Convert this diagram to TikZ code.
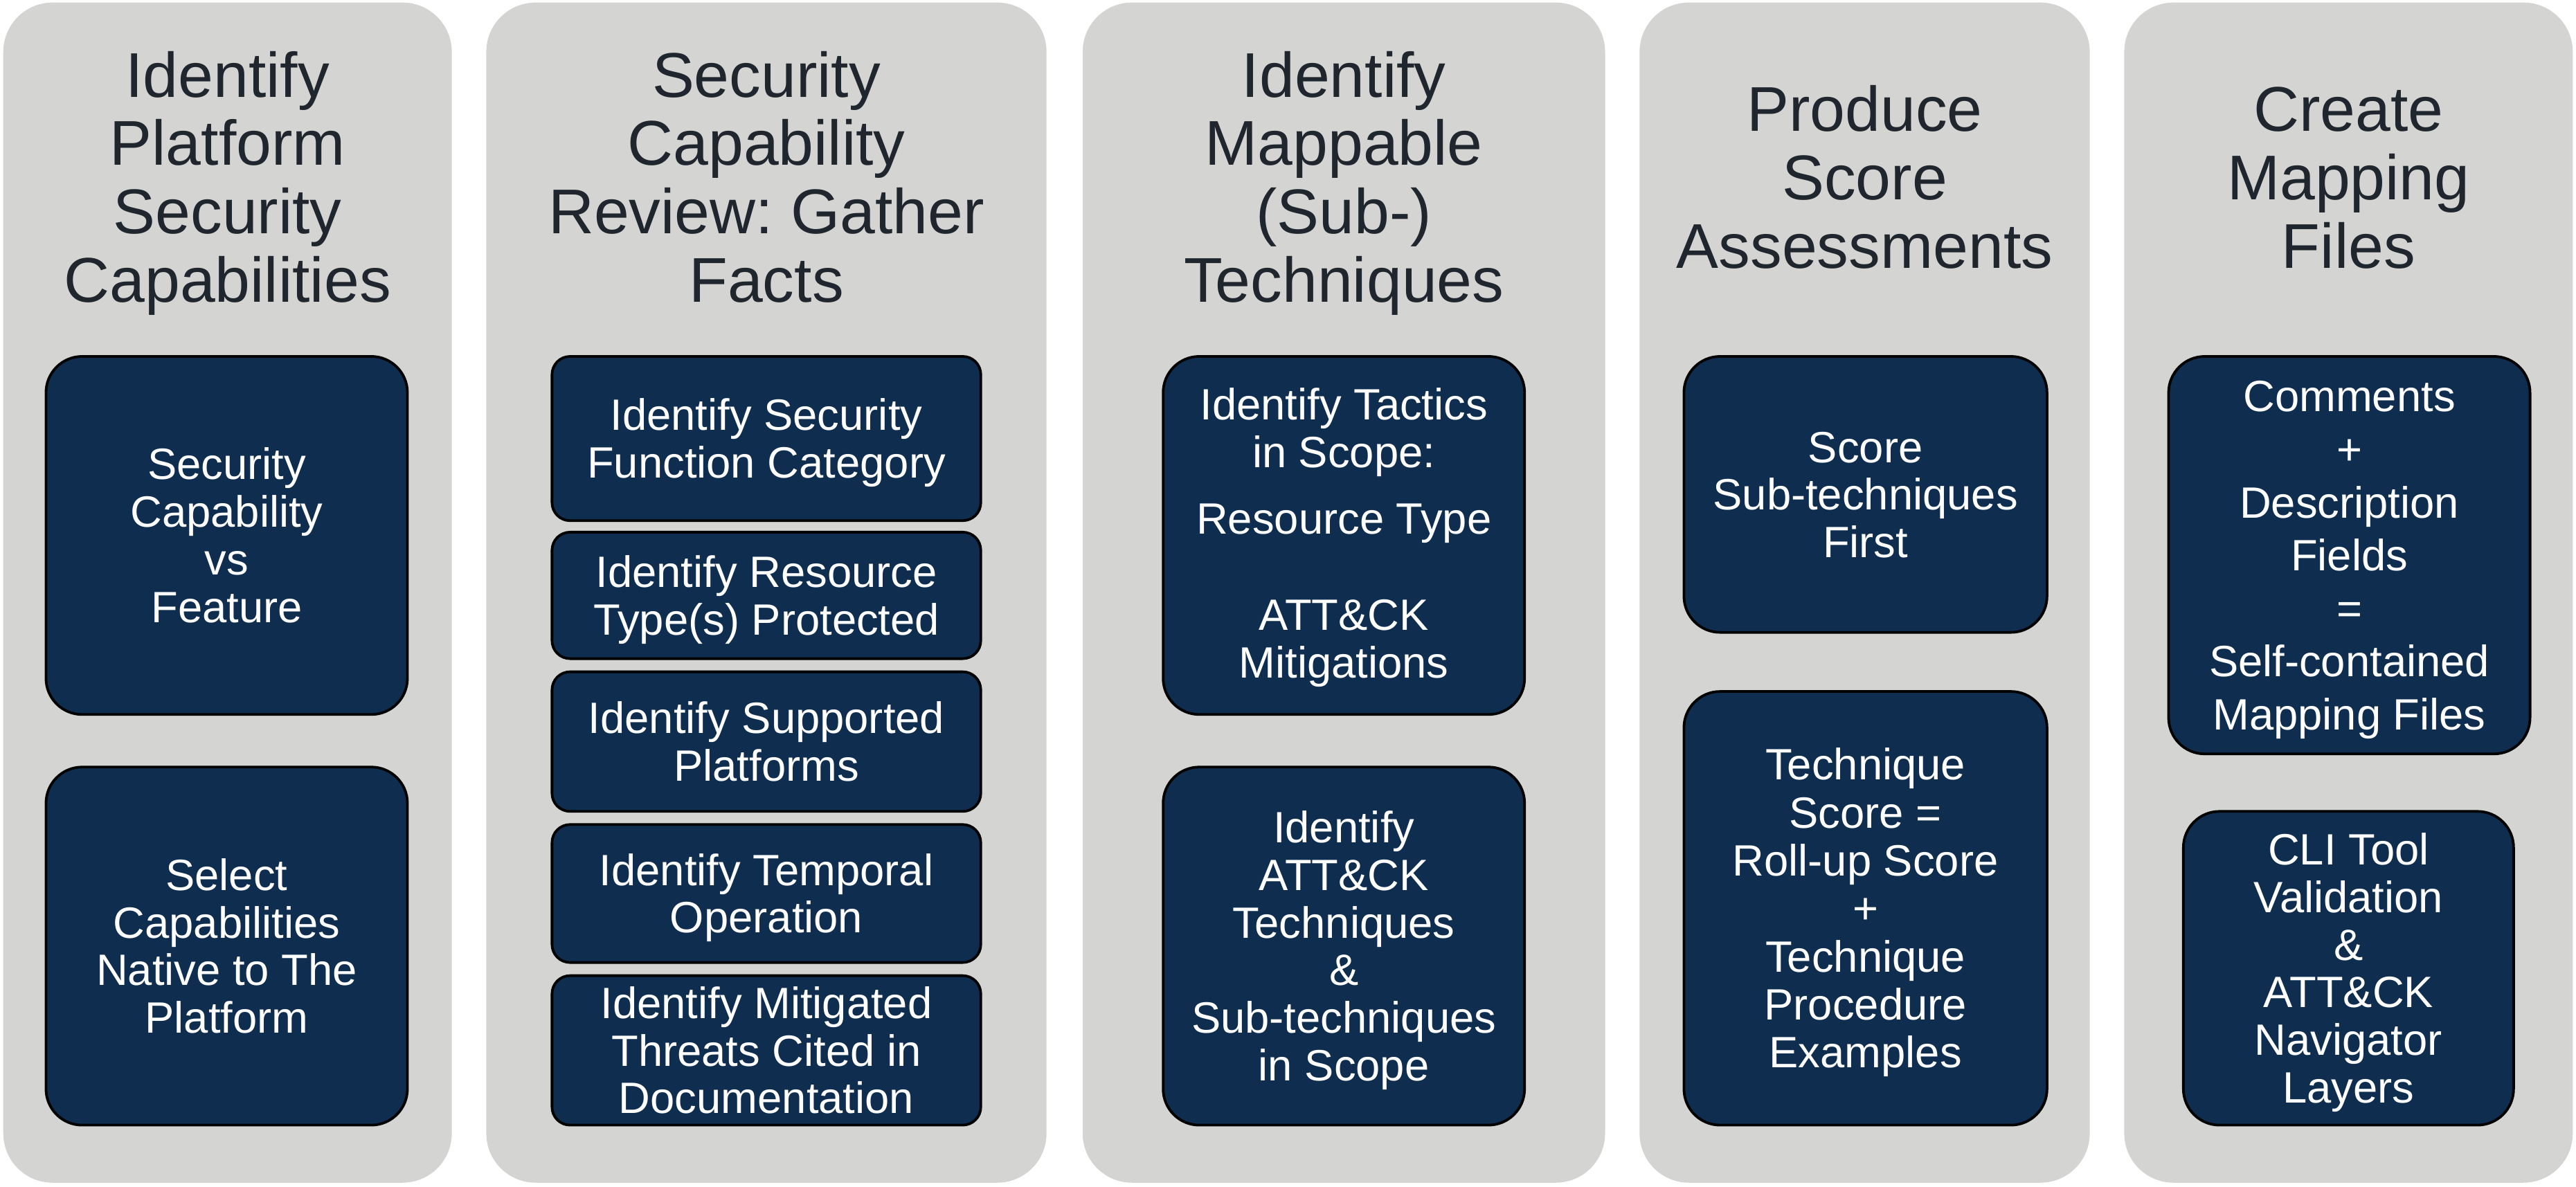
\documentclass[tikz,border=0pt]{standalone}
\usepackage{fontspec}
\setmainfont{Liberation Sans}
\frenchspacing
\definecolor{panelgray}{RGB}{212,212,210}
\definecolor{navy}{RGB}{14,45,79}
\definecolor{titleink}{RGB}{31,38,46}
\tikzset{
  panelbox/.style={rectangle, fill=panelgray, draw=none, rounded corners=30pt, inner sep=0pt},
  stepbox/.style={rectangle, fill=navy, draw=black, line width=1.6pt, rounded corners=22pt, inner sep=0pt},
  smallbox/.style={stepbox, rounded corners=11pt},
  boxtext/.style={text=white, font=\fontsize{26.7}{29}\selectfont, inner sep=0pt},
  titletext/.style={text=titleink, font=\fontsize{38.5}{41.7}\selectfont, inner sep=0pt}
}
% #1 prefix, #2 cx, #3 cy, #4 number of lines, #5 line spacing, #6 lines
\newcommand\boxlines[6]{%
  \foreach \tline [count=\i] in {#6}{%
    \node[boxtext,anchor=base] (#1-\i) at ({#2},{#3-(#4-1)*#5/2+(\i-1)*#5+9.5}) {\tline};}}
% #1 prefix, #2 cx, #3 first baseline, #4 lines
\newcommand\titlelines[4]{%
  \foreach \tline [count=\i] in {#4}{%
    \node[titletext,anchor=base] (#1-\i) at ({#2},{#3+(\i-1)*41.7}) {\tline};}}
\begin{document}
\begin{tikzpicture}[x=1pt,y=-1pt]
\useasboundingbox (0,0) rectangle (1568,722.3);
% panels
\node[panelbox, minimum width=273pt, minimum height=718.5pt] (p1) at (138.5,360.8) {};
\node[panelbox, minimum width=341pt, minimum height=718.5pt] (p2) at (466.5,360.8) {};
\node[panelbox, minimum width=318pt, minimum height=718.5pt] (p3) at (818,360.8) {};
\node[panelbox, minimum width=274pt, minimum height=718.5pt] (p4) at (1135,360.8) {};
\node[panelbox, minimum width=273pt, minimum height=718.5pt] (p5) at (1429.5,360.8) {};
% titles
\titlelines{t1}{138.5}{59}{Identify,Platform,Security,Capabilities}
\titlelines{t2}{466.5}{59}{Security,Capability,Review: Gather,Facts}
\titlelines{t3}{818}{59}{Identify,Mappable,{(Sub-)},Techniques}
\titlelines{t4}{1135}{79.7}{Produce,Score,Assessments}
\titlelines{t5}{1429.5}{79.7}{Create,Mapping,Files}
% column 1
\node[stepbox, minimum width=220pt, minimum height=218pt] (c1a) at (138,326) {};
\boxlines{c1a}{138}{326}{4}{29}{Security,Capability,vs,Feature}
\node[stepbox, minimum width=220pt, minimum height=218pt] (c1b) at (138,576) {};
\boxlines{c1b}{138}{576}{4}{29}{Select,Capabilities,Native to The,Platform}
% column 2
\node[smallbox, minimum width=261pt, minimum height=100pt] (c2a) at (466.5,267) {};
\boxlines{c2a}{466.5}{267}{2}{29}{Identify Security,Function Category}
\node[smallbox, minimum width=261pt, minimum height=77pt] (c2b) at (466.5,362.5) {};
\boxlines{c2b}{466.5}{362.5}{2}{29}{Identify Resource,{Type(s) Protected}}
\node[smallbox, minimum width=261pt, minimum height=85pt] (c2c) at (466.5,451.5) {};
\boxlines{c2c}{466.5}{451.5}{2}{29}{Identify Supported,Platforms}
\node[smallbox, minimum width=261pt, minimum height=84pt] (c2d) at (466.5,544) {};
\boxlines{c2d}{466.5}{544}{2}{29}{Identify Temporal,Operation}
\node[smallbox, minimum width=261pt, minimum height=91pt] (c2e) at (466.5,639.5) {};
\boxlines{c2e}{466.5}{639.5}{3}{29}{Identify Mitigated,Threats Cited in,Documentation}
% column 3
\node[stepbox, minimum width=220pt, minimum height=218pt] (c3a) at (818,326) {};
\node[boxtext,anchor=base] (c3a-1) at (818,255.5) {Identify Tactics};
\node[boxtext,anchor=base] (c3a-2) at (818,284.5) {in Scope:};
\node[boxtext,anchor=base] (c3a-3) at (818,324.9) {Resource Type};
\node[boxtext,anchor=base] (c3a-4) at (818,383.7) {ATT\&CK};
\node[boxtext,anchor=base] (c3a-5) at (818,412.7) {Mitigations};
\node[stepbox, minimum width=220pt, minimum height=218pt] (c3b) at (818,576) {};
\boxlines{c3b}{818}{576}{6}{29}{Identify,ATT\&CK,Techniques,\&,Sub-techniques,in Scope}
% column 4
\node[stepbox, minimum width=221pt, minimum height=168pt] (c4a) at (1135.5,301) {};
\boxlines{c4a}{1135.5}{301}{3}{29}{Score,Sub-techniques,First}
\node[stepbox, minimum width=221pt, minimum height=264pt] (c4b) at (1135.5,553) {};
\boxlines{c4b}{1135.5}{553}{7}{29.2}{Technique,Score =,Roll-up Score,+,Technique,Procedure,Examples}
% column 5
\node[stepbox, minimum width=220pt, minimum height=242pt] (c5a) at (1430,338) {};
\boxlines{c5a}{1430}{338}{7}{32.3}{Comments,+,Description,Fields,=,Self-contained,Mapping Files}
\node[stepbox, minimum width=201pt, minimum height=191pt] (c5b) at (1429.5,589.5) {};
\boxlines{c5b}{1429.5}{589.5}{6}{29}{CLI Tool,Validation,\&,ATT\&CK,Navigator,Layers}
\end{tikzpicture}
\end{document}
